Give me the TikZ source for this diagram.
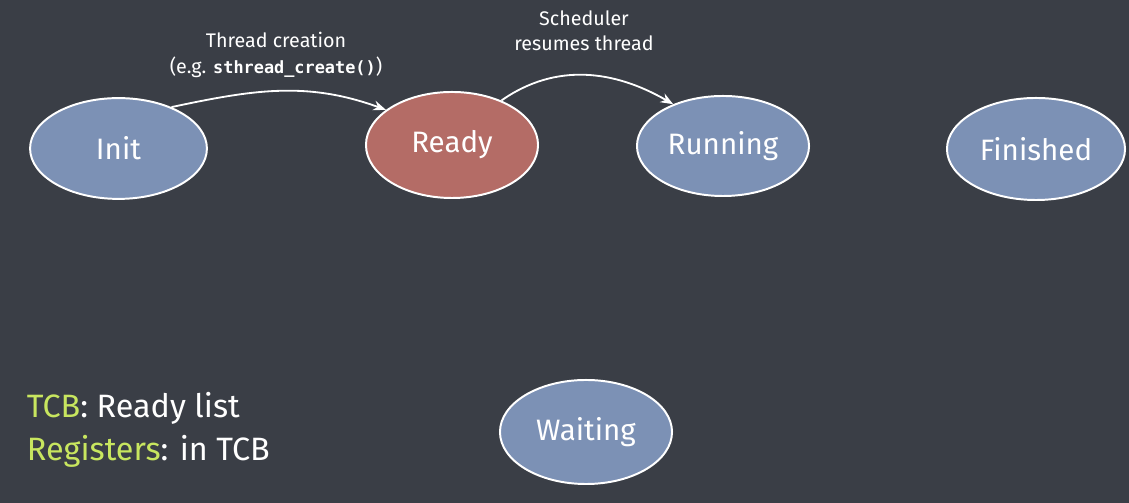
\documentclass[tikz,border=0pt]{standalone}
\usepackage{fontspec}
\setmainfont{Fira Sans}
\setmonofont{DejaVu Sans Mono}
\usetikzlibrary{shapes.geometric,arrows.meta}
\definecolor{board}{RGB}{58,62,70}
\definecolor{stateblue}{RGB}{124,145,181}
\definecolor{statered}{RGB}{180,108,102}
\definecolor{chalkgreen}{RGB}{200,230,95}
\tikzset{
  state/.style={ellipse,draw=white,line width=1.4pt,fill=stateblue,text=white,
    font=\fontsize{21}{25}\selectfont,inner sep=0pt},
  trans/.style={draw=white,line width=1.3pt,-{Stealth[length=9pt,width=7pt]}},
  note/.style={text=white,align=center,font=\fontsize{14}{18}\selectfont},
  legend/.style={anchor=west,text=white,font=\fontsize{23}{27}\selectfont}
}
\begin{document}
\begin{tikzpicture}[x=0.025cm,y=0.025cm]
\fill[board] (0,0) rectangle (1129,503);
\useasboundingbox (0,0) rectangle (1129,503);
\node[state,minimum width=4.42cm,minimum height=2.52cm] (init) at (118.5,354.5) {Init};
\node[state,fill=statered,minimum width=4.3cm,minimum height=2.65cm] (ready) at (452,358) {Ready};
\node[state,minimum width=4.3cm,minimum height=2.5cm] (running) at (723,357) {Running};
\node[state,minimum width=4.45cm,minimum height=2.55cm] (finished) at (1036,354) {Finished};
\node[state,minimum width=4.3cm,minimum height=2.6cm] (waiting) at (586,71) {Waiting};
% transitions
\draw[trans] (init.38) to[out=12,in=160] (ready.152);
\draw[trans] (ready.42) to[out=35,in=150] (running.140);
\node[note] (create) at (276,448) {Thread creation\\(e.g. {\ttfamily\bfseries\fontsize{12}{18}\selectfont sthread\_create()})};
\node[note] (sched) at (584,472) {Scheduler\\resumes thread};
% bottom left
\node[legend] (tcb) at (22,95) {\textcolor{chalkgreen}{TCB}: Ready list};
\node[legend] (regs) at (22,52) {\textcolor{chalkgreen}{Registers}: in TCB};
\end{tikzpicture}
\end{document}
